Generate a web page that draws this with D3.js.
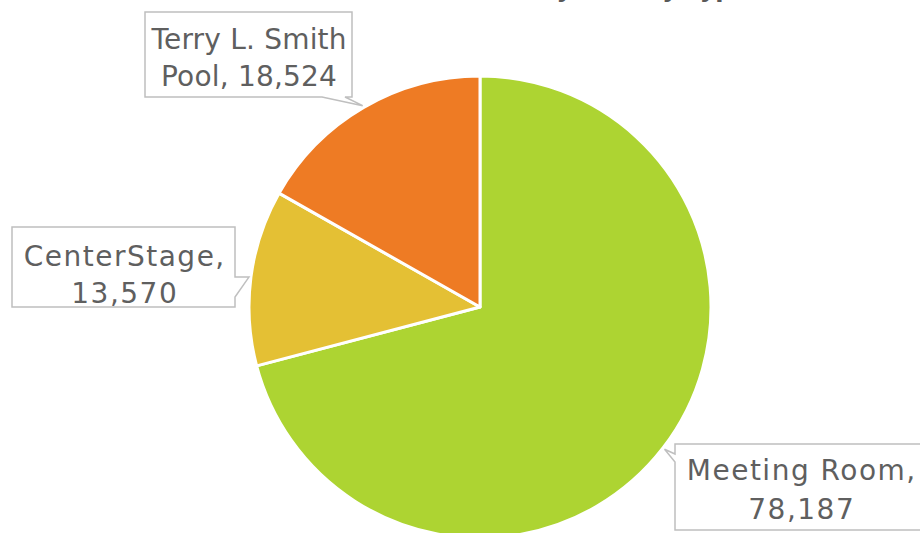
<!DOCTYPE html>
<html>
<head>
<meta charset="utf-8">
<script src="https://cdn.jsdelivr.net/npm/d3@7/dist/d3.min.js"></script>
<style>
  html, body { margin: 0; padding: 0; background: #ffffff; }
  svg { display: block; }
</style>
</head>
<body>
<svg id="chart" width="920" height="533"></svg>
<script>
// ---- data ----
const categories = ["Meeting Room", "CenterStage", "Terry L. Smith Pool"];
const values = [78187, 13570, 18524];
const labelLines = [["Meeting Room,", "78,187"], ["CenterStage,", "13,570"], ["Terry L. Smith", "Pool, 18,524"]];
const colors = ["#ADD432", "#E4C034", "#EE7B24"];
const titleText = "Attendance by Facility Type";

// ---- layout ----
const W = 920, H = 533;
const cx = 480, cy = 307, R = 231;
const FONT = "'DejaVu Sans', sans-serif";

const svg = d3.select("#chart");

// title (mostly cropped off the top of the picture, as in the reference)
svg.append("text")
  .attr("x", 562).attr("y", -3)
  .attr("text-anchor", "middle")
  .attr("font-family", FONT)
  .attr("font-weight", "bold")
  .attr("font-size", 24)
  .attr("fill", "#595959")
  .text(titleText);

const pie = d3.pie().sort(null).value(d => d)(values);
const arc = d3.arc().innerRadius(0).outerRadius(R);
const tipArc = d3.arc().innerRadius(R + 2).outerRadius(R + 2);

const g = svg.append("g").attr("transform", `translate(${cx},${cy})`);
g.selectAll("path.slice")
  .data(pie)
  .enter().append("path")
  .attr("class", "slice")
  .attr("d", arc)
  .attr("fill", (d, i) => colors[i])
  .attr("stroke", "#ffffff")
  .attr("stroke-width", 3)
  .attr("stroke-linejoin", "round");

// callout boxes: [left, top, right, bottom], pointer side and base points
const boxes = [
  { box: [675, 444, 925, 530], side: "left", base: [454, 462], lines: [480, 519], tx: 801, ls: 1.5 },
  { box: [12, 227, 235, 307], side: "right", base: [277, 297], lines: [266, 303], tx: 124, ls: 1.5 },
  { box: [145, 12, 352, 97], side: "bottom", base: [345, 322], lines: [49, 86], tx: 249, ls: 0.2 }
];

pie.forEach((d, i) => {
  const b = boxes[i];
  const [l, t, r, bt] = b.box;
  const c = tipArc.centroid(d);
  const tip = [cx + c[0], cy + c[1]];
  let p;
  if (b.side === "left") {
    p = `M${l},${t}H${r}V${bt}H${l}V${b.base[1]}L${tip[0]},${tip[1]}L${l},${b.base[0]}Z`;
  } else if (b.side === "right") {
    p = `M${l},${t}H${r}V${b.base[0]}L${tip[0]},${tip[1]}L${r},${b.base[1]}V${bt}H${l}Z`;
  } else {
    p = `M${l},${t}H${r}V${bt}H${b.base[0]}L${tip[0]},${tip[1]}L${b.base[1]},${bt}H${l}Z`;
  }
  svg.append("path")
    .attr("d", p)
    .attr("fill", "#ffffff")
    .attr("stroke", "#BFBFBF")
    .attr("stroke-width", 1.5);

  labelLines[i].forEach((txt, j) => {
    svg.append("text")
      .attr("x", b.tx + b.ls / 2).attr("y", b.lines[j])
      .attr("text-anchor", "middle")
      .attr("font-family", FONT)
      .attr("font-size", 28)
      .attr("letter-spacing", b.ls)
      .attr("fill", "#5f5f5f")
      .text(txt);
  });
});
</script>
</body>
</html>
